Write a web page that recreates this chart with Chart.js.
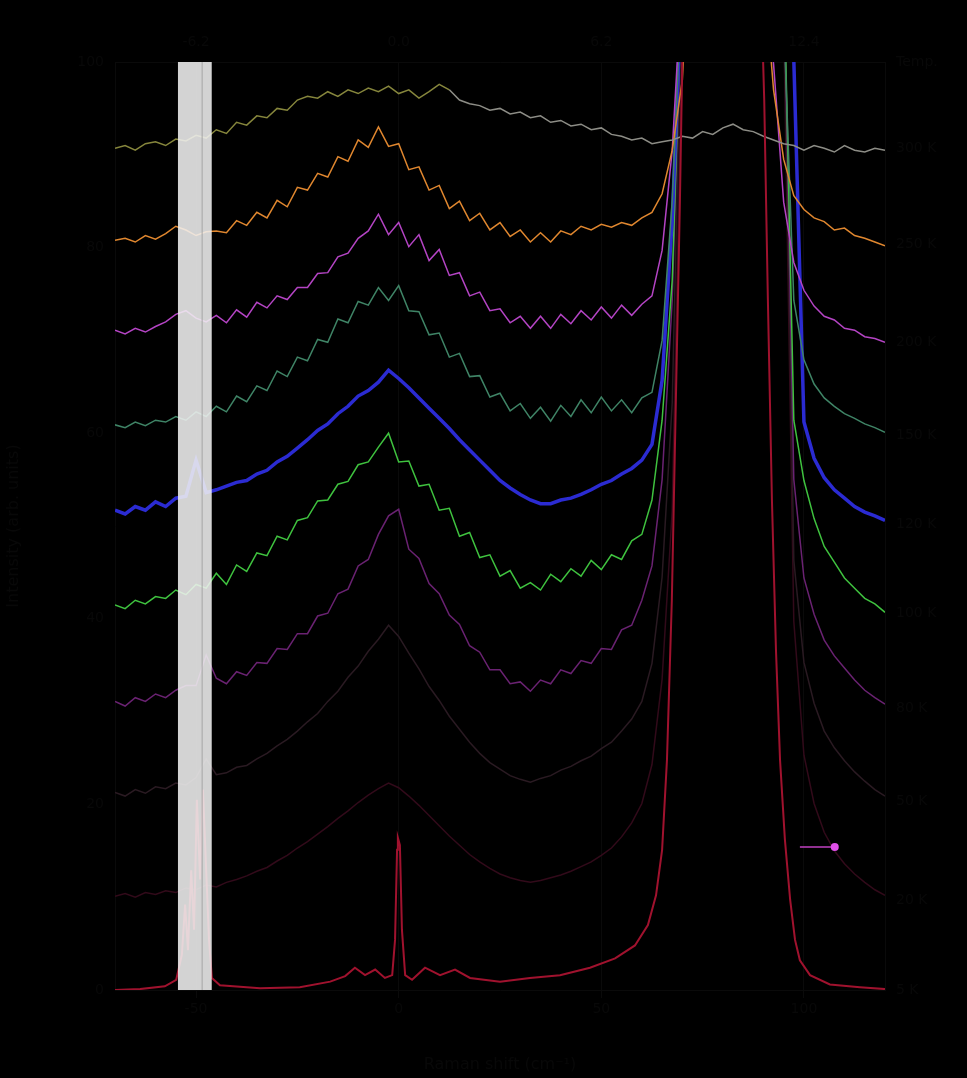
<!DOCTYPE html>
<html>
<head>
<meta charset="utf-8">
<script src="https://cdn.jsdelivr.net/npm/chart.js@4.4.1/dist/chart.umd.min.js"></script>
<style>
  html, body { margin: 0; padding: 0; background: #000; }
  #wrap { width: 967px; height: 1078px; position: relative; }
</style>
</head>
<body>
<div id="wrap"><canvas id="spectra"></canvas></div>
<script>
// ===== Data =====
// Raman shift sampling (cm^-1)
const shift = [
  -70, -67.5, -65, -62.5, -60, -57.5, -55, -52.5, -50, -47.5,
  -45, -42.5, -40, -37.5, -35, -32.5, -30, -27.5, -25, -22.5,
  -20, -17.5, -15, -12.5, -10, -7.5, -5, -2.5, 0, 2.5,
  5, 7.5, 10, 12.5, 15, 17.5, 20, 22.5, 25, 27.5,
  30, 32.5, 35, 37.5, 40, 42.5, 45, 47.5, 50, 52.5,
  55, 57.5, 60, 62.5, 65, 67.5, 70, 72.5, 75, 77.5,
  80, 82.5, 85, 87.5, 90, 92.5, 95, 97.5, 100, 102.5,
  105, 107.5, 110, 112.5, 115, 117.5, 120
];

const temperatures = ["300 K", "250 K", "200 K", "150 K", "120 K", "100 K", "80 K", "50 K", "20 K", "5 K"];
const offsets = [90.7, 80.4, 69.8, 59.8, 50.2, 40.6, 30.3, 20.3, 9.7, 0];

const t300 = [
  0, 0.3, -0.2, 0.5, 0.7, 0.3, 1.0, 0.8, 1.4, 1.1,
  2.0, 1.6, 2.8, 2.5, 3.5, 3.3, 4.3, 4.1, 5.2, 5.6,
  5.4, 6.1, 5.6, 6.3, 5.9, 6.5, 6.1, 6.7, 5.9, 6.3,
  5.4, 6.1, 6.9, 6.3, 5.2, 4.8, 4.6, 4.1, 4.3, 3.7,
  3.9, 3.3, 3.5, 2.8, 3.0, 2.4, 2.6, 2.0, 2.2, 1.5,
  1.3, 0.9, 1.1, 0.5, 0.7, 0.9, 1.3, 1.1, 1.8, 1.5,
  2.2, 2.6, 2.0, 1.8, 1.3, 0.9, 0.5, 0.3, -0.2, 0.3,
  0, -0.4, 0.3, -0.2, -0.4, 0, -0.2
];
const t250 = [
  0.4, 0.6, 0.2, 0.9, 0.5, 1.1, 1.9, 1.5, 0.9, 1.3,
  1.4, 1.2, 2.5, 2.0, 3.4, 2.8, 4.7, 4.0, 6.1, 5.8,
  7.6, 7.2, 9.4, 8.9, 11.2, 10.4, 12.6, 10.5, 10.8, 8.0,
  8.3, 5.8, 6.3, 3.8, 4.6, 2.5, 3.3, 1.5, 2.3, 0.8,
  1.5, 0.2, 1.2, 0.2, 1.4, 1.0, 1.9, 1.5, 2.1, 1.8,
  2.3, 2.0, 2.8, 3.4, 5.4, 10.1, 17.7, 40, 40, 40,
  40, 40, 40, 40, 30, 16.6, 9.1, 5.2, 3.7, 2.8,
  2.4, 1.5, 1.7, 0.9, 0.6, 0.2, -0.2
];
const t200 = [
  1.3, 0.9, 1.5, 1.1, 1.7, 2.2, 3.0, 3.4, 2.6, 2.2,
  2.9, 2.1, 3.5, 2.7, 4.3, 3.7, 5.0, 4.6, 5.9, 5.9,
  7.4, 7.5, 9.2, 9.6, 11.2, 12.0, 13.8, 11.6, 12.9, 10.3,
  11.6, 8.8, 10.0, 7.2, 7.5, 5.0, 5.4, 3.4, 3.6, 2.1,
  2.8, 1.5, 2.8, 1.5, 3.0, 2.0, 3.4, 2.4, 3.8, 2.6,
  4.0, 2.9, 4.1, 5.0, 9.9, 20.7, 40, 40, 40, 40,
  40, 40, 40, 40, 40, 30, 15.1, 8.6, 5.6, 3.9,
  2.8, 2.4, 1.5, 1.3, 0.6, 0.4, 0
];
const t150 = [
  1.1, 0.8, 1.4, 1.0, 1.6, 1.4, 2.0, 1.6, 2.5, 2.0,
  3.1, 2.5, 4.2, 3.6, 5.3, 4.8, 6.9, 6.3, 8.4, 8.0,
  10.3, 10.0, 12.5, 12.1, 14.4, 14.0, 15.9, 14.5, 16.1, 13.4,
  13.3, 10.8, 11.0, 8.4, 8.8, 6.3, 6.4, 4.1, 4.5, 2.6,
  3.4, 1.8, 3.0, 1.5, 3.2, 2.0, 3.8, 2.4, 4.1, 2.6,
  3.8, 2.4, 4.0, 4.6, 10.2, 25.3, 50, 50, 50, 50,
  50, 50, 50, 50, 50, 50, 45, 14.5, 8.1, 5.5,
  4.0, 3.1, 2.3, 1.8, 1.2, 0.8, 0.3
];
const t120 = [
  1.5, 1.1, 1.9, 1.5, 2.4, 1.9, 2.8, 3.0, 6.9, 3.4,
  3.7, 4.1, 4.5, 4.7, 5.4, 5.8, 6.7, 7.3, 8.2, 9.1,
  10.1, 10.8, 11.9, 12.7, 13.8, 14.4, 15.3, 16.6, 15.7, 14.7,
  13.6, 12.5, 11.4, 10.3, 9.1, 8.0, 6.9, 5.8, 4.7, 3.9,
  3.2, 2.6, 2.2, 2.2, 2.6, 2.8, 3.2, 3.7, 4.3, 4.7,
  5.4, 6.0, 6.9, 8.6, 15.5, 32.8, 60, 60, 60, 60,
  60, 60, 60, 60, 60, 60, 60, 50, 11.0, 7.1,
  5.0, 3.7, 2.8, 1.9, 1.3, 0.9, 0.4
];
const t100 = [
  0.9, 0.5, 1.4, 1.0, 1.8, 1.6, 2.5, 2.0, 3.1, 2.7,
  4.3, 3.1, 5.2, 4.5, 6.5, 6.2, 8.3, 7.9, 10.0, 10.3,
  12.1, 12.2, 13.9, 14.2, 16.0, 16.3, 17.9, 19.4, 16.3, 16.4,
  13.7, 13.9, 11.1, 11.3, 8.3, 8.7, 6.0, 6.3, 4.0, 4.6,
  2.7, 3.3, 2.5, 4.2, 3.4, 4.8, 4.0, 5.7, 4.7, 6.3,
  5.8, 7.8, 8.5, 12.2, 20.8, 35.9, 70, 70, 70, 70,
  70, 70, 70, 70, 70, 70, 70, 20.8, 14.3, 10.2,
  7.2, 5.5, 3.8, 2.7, 1.6, 1.0, 0.1
];
const t80 = [
  0.8, 0.3, 1.2, 0.8, 1.6, 1.2, 2.0, 2.5, 2.5, 5.8,
  3.3, 2.7, 4.0, 3.6, 5.0, 4.9, 6.5, 6.4, 8.1, 8.1,
  10.0, 10.3, 12.4, 12.9, 15.4, 16.1, 18.8, 20.8, 21.5, 17.2,
  16.2, 13.5, 12.4, 10.1, 9.1, 6.8, 6.1, 4.2, 4.2, 2.7,
  2.9, 1.9, 3.1, 2.7, 4.2, 3.8, 5.2, 4.9, 6.5, 6.4,
  8.5, 9.0, 11.7, 15.4, 24.7, 44.1, 80, 80, 80, 80,
  80, 80, 80, 80, 80, 80, 80, 24.7, 14.1, 10.2,
  7.4, 5.7, 4.4, 3.1, 2.0, 1.2, 0.5
];
const t50 = [
  1.0, 0.6, 1.3, 0.9, 1.6, 1.4, 2.0, 1.8, 2.6, 4.6,
  2.9, 3.1, 3.7, 3.9, 4.6, 5.2, 6.0, 6.7, 7.6, 8.6,
  9.5, 10.8, 11.9, 13.4, 14.6, 16.2, 17.5, 19.0, 17.8, 16.0,
  14.3, 12.4, 10.9, 9.2, 7.8, 6.4, 5.2, 4.2, 3.5, 2.8,
  2.4, 2.1, 2.5, 2.8, 3.4, 3.8, 4.4, 4.9, 5.7, 6.4,
  7.6, 8.9, 10.8, 14.9, 24.2, 43.0, 90, 90, 90, 90,
  90, 90, 90, 90, 90, 90, 90, 26.0, 15.0, 10.6,
  7.6, 5.8, 4.4, 3.2, 2.2, 1.3, 0.6
];
const t20 = [
  0.4, 0.7, 0.3, 0.8, 0.6, 1.0, 0.8, 1.3, 1.1, 1.6,
  1.4, 1.9, 2.2, 2.6, 3.1, 3.5, 4.2, 4.8, 5.6, 6.3,
  7.1, 7.9, 8.8, 9.6, 10.5, 11.3, 12.0, 12.6, 12.1, 11.2,
  10.2, 9.1, 8.0, 6.9, 5.9, 4.9, 4.1, 3.4, 2.8, 2.4,
  2.1, 1.9, 2.1, 2.4, 2.7, 3.1, 3.6, 4.1, 4.8, 5.6,
  6.8, 8.3, 10.4, 14.6, 23.8, 42.0, 95, 95, 95, 95,
  95, 95, 95, 95, 95, 95, 95, 30.0, 15.6, 10.4,
  7.3, 5.3, 3.9, 2.8, 1.9, 1.1, 0.5
];

// 5 K spectrum is sampled more finely (sharp lines)
const shift5K = [
  -70, -63.8, -57.7, -54.9, -53.5, -52.7, -52.0, -51.2, -50.5, -49.8,
  -49.0, -48.3, -47.5, -46.8, -46.1, -44.1, -34.2, -24.4, -16.9, -13.2,
  -10.8, -8.3, -5.8, -3.4, -1.6, -0.9, -0.4, -0.2, 0.3, 0.8,
  1.6, 3.3, 6.5, 10.2, 13.9, 17.6, 25.0, 32.4, 39.8, 47.2,
  53.4, 58.3, 61.5, 63.5, 65.0, 66.2, 67.4, 68.4, 69.4, 70.4,
  79.3, 89.2, 90.2, 91.1, 92.1, 93.1, 94.1, 95.3, 96.6, 97.8,
  99.0, 101.5, 106.4, 113.8, 120
];
const t5 = [
  0, 0.1, 0.4, 1.1, 3.8, 9.2, 4.3, 12.9, 6.5, 20.5,
  11.9, 21.6, 12.9, 5.4, 1.3, 0.5, 0.2, 0.3, 0.9, 1.5,
  2.4, 1.6, 2.2, 1.3, 1.6, 5.4, 15.1, 16.4, 15.6, 6.5,
  1.6, 1.1, 2.4, 1.6, 2.2, 1.3, 0.9, 1.3, 1.6, 2.4,
  3.4, 4.8, 7.0, 10.2, 15.1, 24.8, 42.0, 63.6, 85.1, 111,
  140, 111, 95.9, 74.4, 52.8, 36.6, 24.8, 16.2, 9.7, 5.4,
  3.2, 1.6, 0.6, 0.3, 0.1
];

// marker and highlighted window
const markerShift = [99.0, 107.6];
const markerLevel = [15.4, 15.4];
const windowShift = [-54.5, -46.1];
const windowLine = [-48.5];

const shiftTicks = [-50, 0, 50, 100];
const intensityTicks = [0, 20, 40, 60, 80, 100];

const traceColors = ["#86863c", "#e0872f", "#b444c4", "#3f8466", "#2b2bd2", "#3fc23f", "#6a2272", "#2a1a22", "#320a1a", "#a0122e"];
const traceSets = [t300, t250, t200, t150, t120, t100, t80, t50, t20];

// ===== Datasets =====
const ink = "#080808";
const datasets = traceSets.map((rel, i) => ({
  label: temperatures[i],
  data: shift.map((x, j) => ({ x, y: offsets[i] + rel[j] })),
  borderColor: traceColors[i],
  borderWidth: i === 4 ? 3.5 : 1.5,
  pointRadius: 0,
  tension: 0,
  order: 10 + i
}));
datasets[0].segment = {
  borderColor: ctx => (ctx.p0.parsed.x > 10 ? "#8d8d86" : "#86863c")
};

datasets.push({
  label: temperatures[9],
  data: shift5K.map((x, j) => ({ x, y: offsets[9] + t5[j] })),
  borderColor: traceColors[9],
  borderWidth: 2,
  pointRadius: 0,
  tension: 0,
  order: 5
});

datasets.push({
  label: "marker",
  data: markerShift.map((x, j) => ({ x, y: markerLevel[j] })),
  borderColor: "#c040c0",
  borderWidth: 1.5,
  pointRadius: [0, 4],
  pointBackgroundColor: "#e050e8",
  pointBorderWidth: 0,
  order: 2
});

// translucent grey window drawn on top of the traces
datasets.push({
  label: "window",
  data: windowShift.map(x => ({ x, y: 100 })),
  borderWidth: 0,
  pointRadius: 0,
  fill: "origin",
  backgroundColor: "rgba(240, 240, 240, 0.88)",
  order: -1
});
datasets.push({
  label: "window line",
  data: [{ x: windowLine[0], y: 0 }, { x: windowLine[0], y: 100 }],
  borderColor: "rgba(160, 160, 160, 0.9)",
  borderWidth: 1,
  pointRadius: 0,
  order: -2
});

// ===== Chart.js Setup =====
const fixTicks = list => scale => { scale.ticks = list.map(value => ({ value })); };
const fixSize = (dim, px) => scale => { scale[dim] = px; };

new Chart(document.getElementById("spectra"), {
  type: "line",
  data: { datasets },
  options: {
    responsive: true,
    maintainAspectRatio: false,
    animation: false,
    layout: { padding: 0 },
    plugins: { legend: { display: false }, tooltip: { enabled: false } },
    scales: {
      x: {
        type: "linear",
        position: "bottom",
        min: -70,
        max: 120,
        afterBuildTicks: fixTicks(shiftTicks),
        afterFit: fixSize("height", 88),
        ticks: { color: ink, font: { family: "DejaVu Sans", size: 14 } },
        grid: { color: "#0a0a0a" },
        border: { color: "#0a0a0a" },
        title: { display: true, text: "Raman shift (cm⁻¹)", color: ink, font: { family: "DejaVu Sans", size: 16 } }
      },
      x2: {
        type: "linear",
        position: "top",
        min: -70,
        max: 120,
        afterBuildTicks: fixTicks(shiftTicks),
        afterFit: fixSize("height", 62),
        ticks: { color: ink, font: { family: "DejaVu Sans", size: 14 }, callback: v => (v * 0.124).toFixed(1) },
        grid: { display: false },
        border: { color: "#0a0a0a" }
      },
      y: {
        type: "linear",
        position: "left",
        min: 0,
        max: 100,
        afterBuildTicks: fixTicks(intensityTicks),
        afterFit: fixSize("width", 115),
        ticks: { color: ink, font: { family: "DejaVu Sans", size: 14 } },
        grid: { display: false },
        border: { color: "#0a0a0a" },
        title: { display: true, text: "Intensity (arb. units)", color: ink, font: { family: "DejaVu Sans", size: 16 } }
      },
      y2: {
        type: "linear",
        position: "right",
        min: 0,
        max: 100,
        afterBuildTicks: fixTicks([...offsets, 100]),
        afterFit: fixSize("width", 82),
        ticks: {
          color: ink,
          font: { family: "DejaVu Sans", size: 14 },
          callback: v => (v === 100 ? "Temp." : temperatures[offsets.indexOf(v)])
        },
        grid: { display: false },
        border: { color: "#0a0a0a" }
      }
    }
  }
});
</script>
</body>
</html>
